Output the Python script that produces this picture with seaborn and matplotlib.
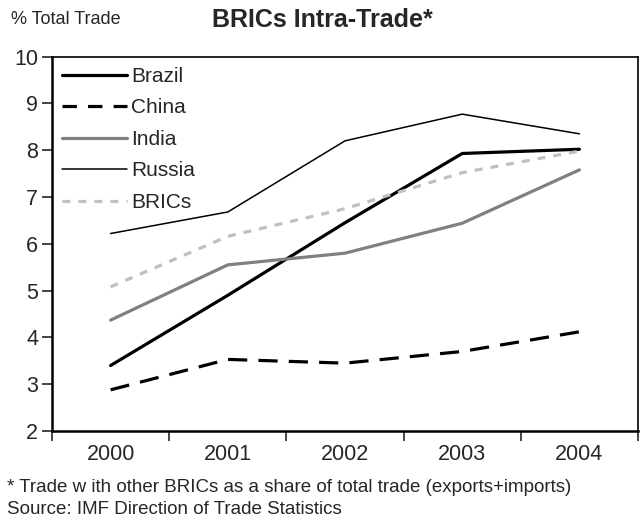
import matplotlib
matplotlib.use("Agg")
import matplotlib.pyplot as plt
import seaborn as sns
import pandas as pd

# --- datos ---
years = [2000, 2001, 2002, 2003, 2004]
brazil = [3.40, 4.90, 6.45, 7.93, 8.02]
china = [2.88, 3.53, 3.45, 3.70, 4.12]
india = [4.37, 5.55, 5.80, 6.44, 7.58]
russia = [6.22, 6.68, 8.20, 8.77, 8.35]
brics = [5.08, 6.16, 6.75, 7.52, 7.98]

series = ["Brazil", "China", "India", "Russia", "BRICs"]
values = [brazil, china, india, russia, brics]

df = pd.DataFrame({
    "year": years * len(series),
    "pct": sum(values, []),
    "serie": [s for s in series for _ in years],
})

sns.set_style("white")
plt.rcParams["font.family"] = ["Liberation Sans", "DejaVu Sans"]

estilos = {
    "Brazil": dict(color="black", lw=2.3, ls="-"),
    "China": dict(color="black", lw=2.3, ls=(0, (6, 3.5))),
    "India": dict(color="#808080", lw=2.3, ls="-"),
    "Russia": dict(color="black", lw=1.1, ls="-"),
    "BRICs": dict(color="#c0c0c0", lw=2.3, ls=(0, (2.5, 2.5))),
}

fig = plt.figure(figsize=(6.4, 5.21), dpi=100)
ax = fig.add_axes([0.08125, 0.1727, 0.9157, 0.7187])

for s in series:
    st = estilos[s]
    sns.lineplot(data=df[df["serie"] == s], x="year", y="pct", ax=ax, label=s,
                 color=st["color"], linewidth=st["lw"], linestyle=st["ls"])

ax.set_xlim(1999.5, 2004.5)
ax.set_ylim(2, 10)
ax.set_yticks(range(2, 11))
ax.set_xticks(years)
ax.set_xticklabels([str(y) for y in years])
ax.set_xticks([1999.5 + i for i in range(6)], minor=True)
ax.tick_params(axis="x", which="major", length=0, pad=9, labelsize=15.5)
ax.tick_params(axis="x", which="minor", length=7, width=1.2, direction="out", bottom=True)
ax.tick_params(axis="y", length=7, width=1.2, direction="out", left=True, labelsize=15.5, pad=3)
ax.set_xlabel("")
ax.set_ylabel("")

for lado in ["left", "bottom"]:
    ax.spines[lado].set_linewidth(1.8)
    ax.spines[lado].set_color("black")
for lado in ["top", "right"]:
    ax.spines[lado].set_linewidth(1.2)
    ax.spines[lado].set_color("black")

leg = ax.legend(loc="upper left", frameon=False, fontsize=15, handlelength=3.1,
                handletextpad=0.2, labelspacing=0.6, borderaxespad=0.1,
                bbox_to_anchor=(0.0, 1.0))
# guiones del leyenda para China como en el original
leg.get_lines()[1].set_linestyle((0, (4.5, 3.5)))

fig.text(0.503, 0.962, "BRICs Intra-Trade*", ha="center", va="center",
         fontsize=18, fontweight="bold")
fig.text(0.017, 0.962, "% Total Trade", ha="left", va="center", fontsize=13)
fig.text(0.011, 0.065, "* Trade w ith other BRICs as a share of total trade (exports+imports)",
         ha="left", va="center", fontsize=13.5)
fig.text(0.011, 0.022, "Source: IMF Direction of Trade Statistics",
         ha="left", va="center", fontsize=13.5)

fig.savefig("out.png", dpi=100)
